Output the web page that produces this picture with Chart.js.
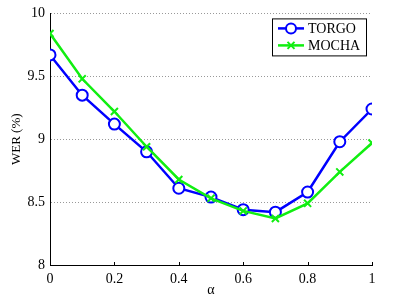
<!DOCTYPE html>
<html lang="en">
<head>
  <meta charset="UTF-8">
  <title>WER vs alpha</title>
  <script src="https://cdn.jsdelivr.net/npm/chart.js"></script>
  <style>
    html, body { margin: 0; padding: 0; background: #FFFFFF; }
    #wrap { width: 411px; height: 298px; }
  </style>
</head>
<body>
  <div id="wrap"><canvas id="grafico" width="411" height="298"></canvas></div>

  <script>
    const alphas = [0, 0.1, 0.2, 0.3, 0.4, 0.5, 0.6, 0.7, 0.8, 0.9, 1];
    const torgo = [9.67, 9.35, 9.12, 8.90, 8.61, 8.54, 8.44, 8.42, 8.58, 8.98, 9.24];
    const mocha = [9.84, 9.48, 9.22, 8.94, 8.68, 8.53, 8.43, 8.37, 8.49, 8.74, 8.97];
    const xTicks = [0, 0.2, 0.4, 0.6, 0.8, 1];
    const yTicks = [8, 8.5, 9, 9.5, 10];

    const azul = "#0000FF";
    const verde = "#11EE11";
    const serif = "'Liberation Serif', 'Times New Roman', serif";

    function marcador(ctx, tipo, x, y, cor) {
      ctx.save();
      ctx.strokeStyle = cor;
      ctx.lineWidth = 2;
      ctx.beginPath();
      if (tipo === "circle") {
        ctx.fillStyle = "#FFFFFF";
        ctx.arc(x, y, 5, 0, Math.PI * 2);
        ctx.fill();
      } else {
        ctx.moveTo(x - 3.5, y - 3.5); ctx.lineTo(x + 3.5, y + 3.5);
        ctx.moveTo(x + 3.5, y - 3.5); ctx.lineTo(x - 3.5, y + 3.5);
      }
      ctx.stroke();
      ctx.restore();
    }

    // legenda com caixa e ticks internos no eixo x
    const extras = {
      id: "extras",
      afterDraw(chart) {
        const ctx = chart.ctx;
        const area = chart.chartArea;
        const xs = chart.scales.x;

        ctx.save();
        ctx.strokeStyle = "#000";
        ctx.lineWidth = 1;
        ctx.beginPath();
        xTicks.forEach(v => {
          const px = Math.round(xs.getPixelForValue(v)) + 0.5;
          ctx.moveTo(px, area.bottom);
          ctx.lineTo(px, area.bottom - 3);
        });
        ctx.stroke();

        const bx = area.right - 100, by = area.top + 5, bw = 94, bh = 37;
        ctx.fillStyle = "#FFF";
        ctx.fillRect(bx, by, bw, bh);
        ctx.strokeRect(bx + 0.5, by + 0.5, bw, bh);

        const itens = [
          { nome: "TORGO", cor: azul, tipo: "circle" },
          { nome: "MOCHA", cor: verde, tipo: "cross" }
        ];
        ctx.font = "14px " + serif;
        ctx.textBaseline = "middle";
        itens.forEach((it, i) => {
          const ly = by + 10 + i * 17;
          ctx.strokeStyle = it.cor;
          ctx.lineWidth = 2.5;
          ctx.beginPath();
          ctx.moveTo(bx + 6, ly);
          ctx.lineTo(bx + 32, ly);
          ctx.stroke();
          marcador(ctx, it.tipo, bx + 19, ly, it.cor);
          ctx.fillStyle = "#000";
          ctx.fillText(it.nome, bx + 36, ly + 1);
        });
        ctx.restore();
      }
    };

    new Chart(document.getElementById("grafico"), {
      type: "line",
      data: {
        datasets: [
          {
            label: "TORGO",
            data: alphas.map((a, i) => ({ x: a, y: torgo[i] })),
            borderColor: azul,
            borderWidth: 2.5,
            pointStyle: "circle",
            pointRadius: 5.5,
            pointBorderWidth: 2,
            pointBorderColor: azul,
            pointBackgroundColor: "#FFFFFF",
            order: 1
          },
          {
            label: "MOCHA",
            data: alphas.map((a, i) => ({ x: a, y: mocha[i] })),
            borderColor: verde,
            borderWidth: 2.5,
            pointStyle: "crossRot",
            pointRadius: 5,
            pointBorderWidth: 2,
            pointBorderColor: verde,
            order: 0
          }
        ]
      },
      options: {
        responsive: false,
        animation: false,
        layout: { padding: { top: 11, right: 39, left: 0, bottom: 0 } },
        plugins: { legend: { display: false }, tooltip: { enabled: false } },
        scales: {
          x: {
            type: "linear",
            min: 0,
            max: 1,
            afterBuildTicks: s => { s.ticks = xTicks.map(v => ({ value: v })); },
            afterFit: s => { s.height = 33; },
            grid: { display: false, drawTicks: false },
            border: { display: true, color: "#000", width: 1 },
            ticks: {
              padding: 6,
              color: "#000",
              font: { family: serif, size: 14 },
              callback: v => String(v)
            },
            title: {
              display: true,
              text: "α",
              color: "#000",
              font: { family: serif, size: 14 },
              padding: { top: 0, bottom: -1 }
            }
          },
          y: {
            min: 8,
            max: 10,
            afterBuildTicks: s => { s.ticks = yTicks.map(v => ({ value: v })); },
            afterFit: s => { s.width = 50; },
            grid: { color: "#999", lineWidth: 1, drawTicks: false },
            border: { display: true, color: "#000", width: 1, dash: [1, 2] },
            ticks: {
              padding: 5,
              color: "#000",
              font: { family: serif, size: 14 },
              callback: v => String(v)
            },
            title: {
              display: true,
              text: "WER (%)",
              color: "#000",
              font: { family: serif, size: 13 },
              padding: { top: 9, bottom: 0 }
            }
          }
        }
      },
      plugins: [extras]
    });
  </script>
</body>
</html>
